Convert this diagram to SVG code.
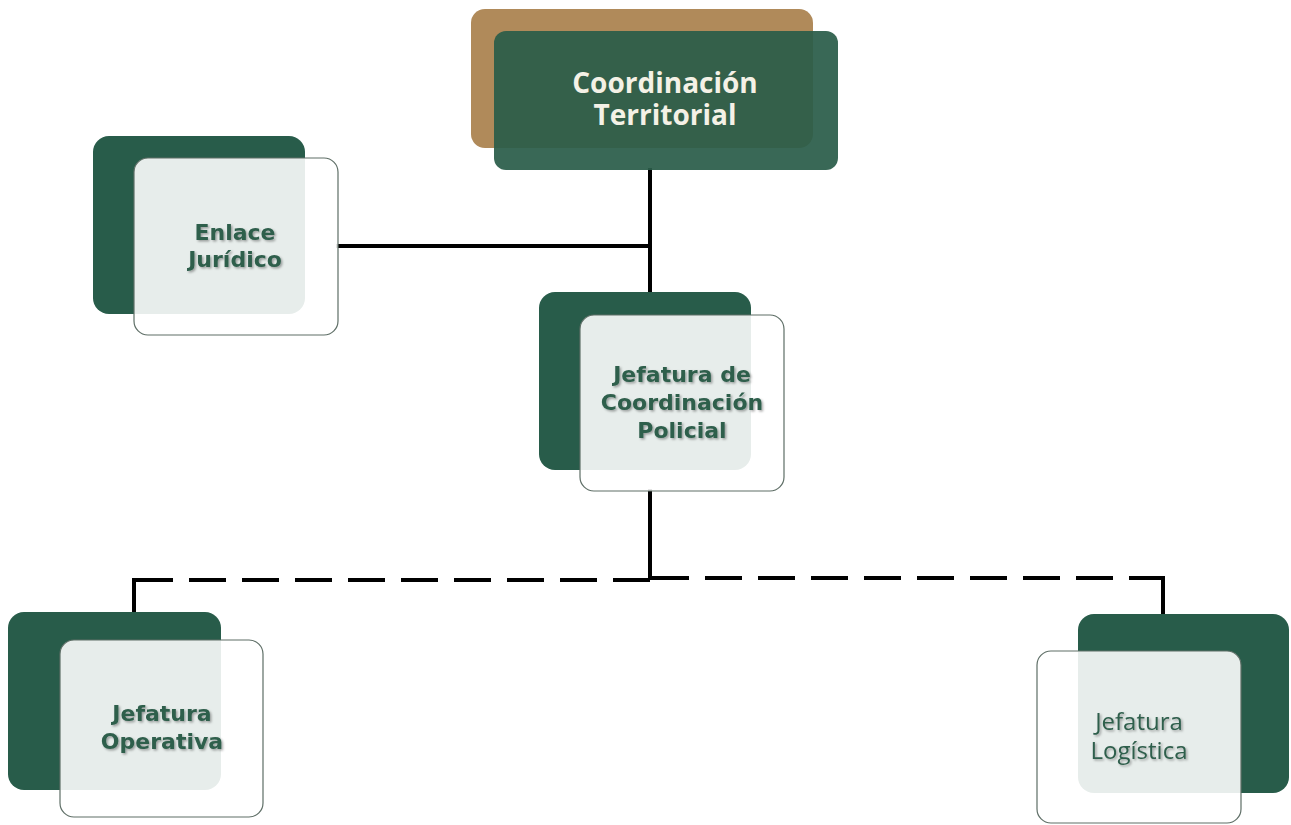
<svg xmlns="http://www.w3.org/2000/svg" width="1291" height="825" viewBox="0 0 1291 825">
<defs>
<style>
.dk{fill:#285c4a}
.lt{fill:#ffffff;fill-opacity:0.89;stroke:#5e6e66;stroke-width:1.2}
.t{font-family:"DejaVu Sans","Open Sans",sans-serif;font-weight:700;font-size:22px;fill:#2f5e4c;text-anchor:middle;filter:url(#sh)}
.tr{font-family:"Open Sans","Noto Sans",sans-serif;font-weight:400;font-size:24px;fill:#2f5e4c;text-anchor:middle;filter:url(#sh)}
.tw{font-family:"Open Sans","Noto Sans",sans-serif;font-weight:700;font-size:28px;fill:#f4f1e6;text-anchor:middle}
.c{fill:none;stroke:#000;stroke-width:4}
.d{fill:none;stroke:#000;stroke-width:4;stroke-dasharray:37 16}
</style>
<filter id="sh" x="-10%" y="-20%" width="130%" height="150%">
<feDropShadow dx="1.5" dy="1.5" stdDeviation="1" flood-color="#000" flood-opacity="0.35"/>
</filter>
</defs>
<rect width="1291" height="825" fill="#ffffff"/>
<g id="connectors">
<line class="c" x1="650" y1="168" x2="650" y2="294"/>
<line class="c" x1="336" y1="246" x2="650" y2="246"/>
<line class="c" x1="650" y1="489" x2="650" y2="580"/>
<polyline class="d" points="650,580 134,580"/>
<line class="c" x1="134" y1="578" x2="134" y2="614"/>
<line class="c" x1="132" y1="580" x2="170" y2="580"/>
<polyline class="d" points="652,578 1163,578"/>
<line class="c" x1="1163" y1="576" x2="1163" y2="620"/>
<line class="c" x1="1145" y1="578" x2="1165" y2="578"/>
</g>
<g id="coordinacion-territorial">
<rect x="471" y="9" width="342" height="139" rx="14" fill="#b08a5a"/>
<rect x="494" y="31" width="344" height="139" rx="12" fill="#2a5c49" fill-opacity="0.93"/>
<text class="tw" x="665" y="93">Coordinación</text>
<text class="tw" x="665" y="125">Territorial</text>
</g>
<g id="enlace-juridico">
<rect class="dk" x="93" y="136" width="212" height="178" rx="16"/>
<rect class="lt" x="134" y="158" width="204" height="177" rx="14"/>
<text class="t" x="235" y="240">Enlace</text>
<text class="t" x="235" y="267">Jurídico</text>
</g>
<g id="jefatura-coordinacion-policial">
<rect class="dk" x="539" y="292" width="212" height="178" rx="16"/>
<rect class="lt" x="580" y="315" width="204" height="176" rx="14"/>
<text class="t" x="682" y="382">Jefatura de</text>
<text class="t" x="682" y="410">Coordinación</text>
<text class="t" x="682" y="438">Policial</text>
</g>
<g id="jefatura-operativa">
<rect class="dk" x="8" y="612" width="213" height="178" rx="16"/>
<rect class="lt" x="60" y="640" width="203" height="177" rx="14"/>
<text class="t" x="162" y="721">Jefatura</text>
<text class="t" x="162" y="749">Operativa</text>
</g>
<g id="jefatura-logistica">
<rect class="dk" x="1078" y="614" width="211" height="179" rx="16"/>
<rect class="lt" x="1037" y="651" width="204" height="172" rx="14"/>
<text class="tr" x="1139" y="730">Jefatura</text>
<text class="tr" x="1139" y="759">Logística</text>
</g>
</svg>
